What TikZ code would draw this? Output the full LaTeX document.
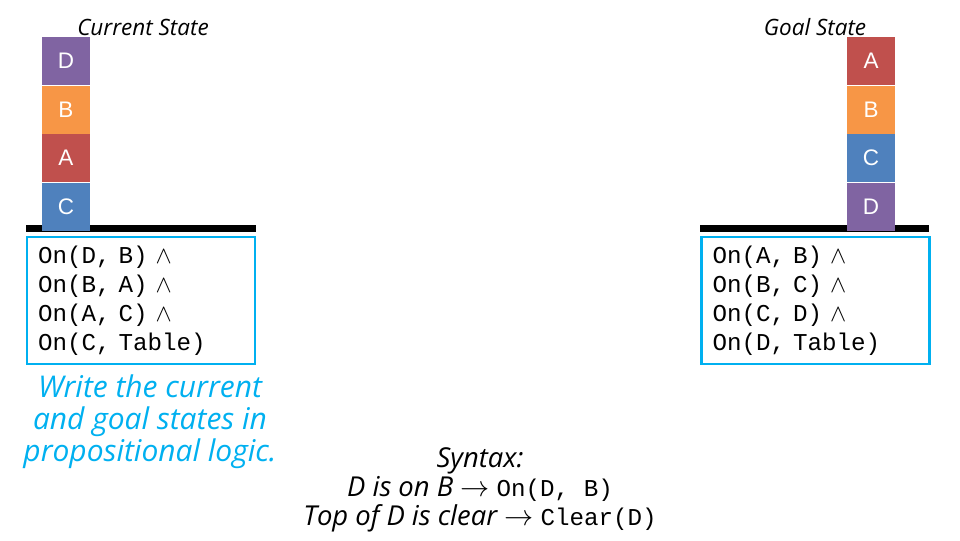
\documentclass[tikz,border=0pt]{standalone}
\usepackage{fontspec}
\setmonofont{Liberation Mono}
\newfontfamily\handfont{Open Sans}
\newfontfamily\blockfont{Liberation Sans}
\usepackage{xcolor}
\usepackage{tikz}
\usetikzlibrary{positioning}

\definecolor{blkpurple}{HTML}{8064A2}
\definecolor{blkorange}{HTML}{F79646}
\definecolor{blkred}{HTML}{C0504D}
\definecolor{blkblue}{HTML}{4F81BD}
\definecolor{skyblue}{HTML}{00B0F0}

\newcommand{\codetxt}[1]{{\upshape\ttfamily\fontsize{17.2}{20}\selectfont #1}}

\begin{document}
\begin{tikzpicture}[
    block/.style={rectangle, minimum width=1.2cm, minimum height=1.2cm, inner sep=0pt, text=white, font=\blockfont\fontsize{16}{18}\selectfont},
    tabletop/.style={line width=5pt},
    statebox/.style={rectangle, draw=skyblue, line width=2.1pt, minimum height=3.175cm, text width=5.15cm, inner xsep=0.275cm, align=left, font=\ttfamily\fontsize{17.2}{20.6}\selectfont},
    title/.style={font=\handfont\itshape\fontsize{16}{18}\selectfont},
    note/.style={text=skyblue, align=center, font=\handfont\itshape\fontsize{21.3}{22.8}\selectfont},
    syntax/.style={align=center, font=\handfont\itshape\fontsize{19.5}{20.8}\selectfont},
  ]
    \useasboundingbox (0, 0) rectangle (24, -13.5);

    % Current State
    \draw[tabletop] (0.65, -5.7125) -- (6.4, -5.7125);
    \node[title] (curtitle) at (3.575, -0.675) {Current State};
    \node[block, fill=blkpurple] (cd) at (1.65, -1.525) {D};
    \node[block, fill=blkorange, below=0pt of cd] (cb) {B};
    \node[block, fill=blkred, below=0pt of cb] (ca) {A};
    \node[block, fill=blkblue, below=0pt of ca] (cc) {C};
    \node[statebox] (curlogic) at (3.525, -7.5125) {On(D, B) \(\wedge\)\\On(B, A) \(\wedge\)\\On(A, C) \(\wedge\)\\On(C, Table)};

    % Goal State
    \draw[tabletop] (17.5, -5.7125) -- (23.225, -5.7125);
    \node[title] (goaltitle) at (20.375, -0.675) {Goal State};
    \node[block, fill=blkred] (ga) at (21.775, -1.525) {A};
    \node[block, fill=blkorange, below=0pt of ga] (gb) {B};
    \node[block, fill=blkblue, below=0pt of gb] (gc) {C};
    \node[block, fill=blkpurple, below=0pt of gc] (gd) {D};
    \node[statebox] (goallogic) at (20.3875, -7.5125) {On(A, B) \(\wedge\)\\On(B, C) \(\wedge\)\\On(C, D) \(\wedge\)\\On(D, Table)};

    % Notes
    \node[note] (hint) at (3.75, -10.55) {Write the current\\and goal states in\\propositional logic.};
    \node[syntax] (syn) at (12, -12.25) {Syntax:\\D is on B \(\rightarrow\) \codetxt{On(D, B)}\\Top of D is clear \(\rightarrow\) \codetxt{Clear(D)}};

  \end{tikzpicture}
\end{document}
